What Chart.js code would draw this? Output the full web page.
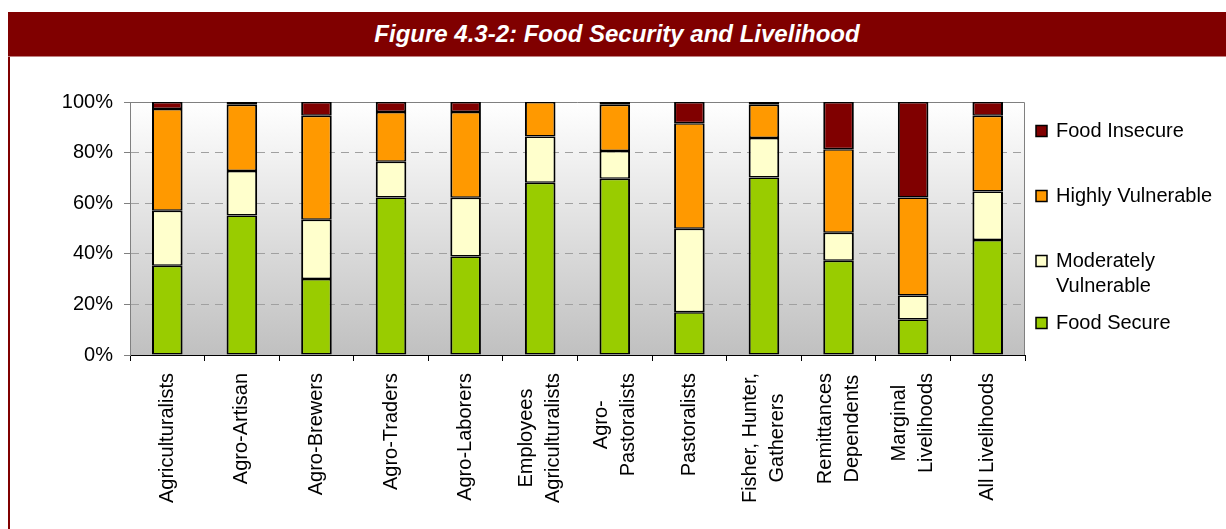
<!DOCTYPE html>
<html><head><meta charset="utf-8">
<script src="https://cdn.jsdelivr.net/npm/chart.js@4.4.0/dist/chart.umd.min.js"></script>
<style>
html,body{margin:0;padding:0;background:#fff;width:1226px;height:529px;overflow:hidden;font-family:"Liberation Sans",Arial,sans-serif;}
#band{position:absolute;left:8px;right:0;top:12px;height:44px;background:#800000;border-bottom:1px solid #c08080;color:#fff;font-weight:bold;font-style:italic;font-size:24px;line-height:44px;text-align:center;}
#lb{position:absolute;left:8px;width:2px;top:57px;bottom:0;background:#800000;}
canvas{position:absolute;left:0;top:0;}
</style></head>
<body>
<div id="band">Figure 4.3-2: Food Security and Livelihood</div>
<div id="lb"></div>
<canvas id="c" width="1226" height="529"></canvas>
<script>
const categories = [
  ["Agriculturalists"], ["Agro-Artisan"], ["Agro-Brewers"], ["Agro-Traders"],
  ["Agro-Laborers"], ["Employees", "Agriculturalists"], ["Agro-", "Pastoralists"],
  ["Pastoralists"], ["Fisher, Hunter,", "Gatherers"], ["Remittances", "Dependents"],
  ["Marginal", "Livelihoods"], ["All Livelihoods"]
];
const seriesNames = ["Food Secure", "Moderately Vulnerable", "Highly Vulnerable", "Food Insecure"];
const foodSecure        = [35.3, 55.1, 30.0, 62.3, 38.9, 68.1, 69.7, 16.9, 70.2, 37.3, 14.0, 45.5];
const moderatelyVuln    = [21.7, 17.6, 23.5, 14.1, 23.3, 18.3, 10.9, 33.0, 15.6, 11.0,  9.5, 19.1];
const highlyVuln        = [40.2, 26.2, 41.1, 19.6, 33.8, 13.6, 18.3, 41.7, 13.1, 33.0, 38.8, 30.0];
const foodInsecure      = [ 2.8,  1.1,  5.4,  4.0,  4.0,  0.0,  1.1,  8.4,  1.1, 18.7, 37.7,  5.4];
const yTicks = [0, 20, 40, 60, 80, 100];
const legendOrder = [3, 2, 1, 0];
const legendLines = [["Food Secure"], ["Moderately", "Vulnerable"], ["Highly Vulnerable"], ["Food Insecure"]];

const colors = ["#99cc00", "#ffffcc", "#ff9900", "#800000"];
const values = [foodSecure, moderatelyVuln, highlyVuln, foodInsecure];
const FONT = '"Liberation Sans", Arial, sans-serif';

const bgPlugin = {
  id: 'bg',
  beforeDraw(chart) {
    const {ctx, chartArea: a} = chart;
    const g = ctx.createLinearGradient(0, a.top, 0, a.bottom);
    g.addColorStop(0, '#ffffff');
    g.addColorStop(1, '#c0c0c0');
    ctx.save();
    ctx.fillStyle = g;
    ctx.fillRect(a.left, a.top, a.right - a.left, a.bottom - a.top);
    ctx.restore();
  },
  beforeDatasetsDraw(chart) {
    const {ctx, chartArea: a} = chart;
    ctx.save();
    ctx.strokeStyle = '#808080';
    ctx.lineWidth = 1;
    ctx.beginPath();
    ctx.moveTo(a.left, a.top + 0.5); ctx.lineTo(a.right - 0.5, a.top + 0.5);
    ctx.lineTo(a.right - 0.5, a.bottom);
    ctx.stroke();
    ctx.restore();
  },
  afterDraw(chart) {
    const ctx = chart.ctx;
    const xs = chart.scales.x;
    ctx.save();
    ctx.font = '20px ' + FONT;
    ctx.fillStyle = '#000';
    ctx.textBaseline = 'middle';
    ctx.textAlign = 'right';
    const lh = 27;
    categories.forEach((lines, i) => {
      const x = xs.getPixelForTick(i);
      const widths = lines.map(l => ctx.measureText(l).width);
      const maxW = Math.max(...widths);
      lines.forEach((l, j) => {
        ctx.save();
        ctx.translate(x + (j - (lines.length - 1) / 2) * lh, xs.top + 18 + (maxW - widths[j]) / 2);
        ctx.rotate(-Math.PI / 2);
        ctx.fillText(l, 0, 0);
        ctx.restore();
      });
    });
    // legend
    const legendY = [131, 196, 261, 323];
    ctx.textAlign = 'left';
    legendOrder.forEach((di, k) => {
      const y = legendY[k];
      ctx.fillStyle = colors[di];
      ctx.fillRect(1036, y - 5.5, 11, 11);
      ctx.strokeStyle = '#000';
      ctx.lineWidth = 1.5;
      ctx.strokeRect(1036, y - 5.5, 11, 11);
      ctx.fillStyle = '#000';
      legendLines[di].forEach((t, j) => ctx.fillText(t, 1056, y + j * 25));
    });
    ctx.restore();
  }
};

new Chart(document.getElementById('c'), {
  type: 'bar',
  data: {
    labels: categories,
    datasets: values.map((v, i) => ({
      label: seriesNames[i],
      data: v,
      backgroundColor: colors[i],
      borderColor: '#000',
      borderWidth: {left: 2, right: 2, top: 1.5, bottom: 1.5},
      borderSkipped: false,
      barPercentage: 0.41,
      categoryPercentage: 1
    }))
  },
  options: {
    responsive: false,
    animation: false,
    layout: {padding: {left: 0, right: 201, top: 102, bottom: 0}},
    plugins: {legend: {display: false}, tooltip: {enabled: false}, title: {display: false}},
    scales: {
      x: {
        stacked: true,
        grid: {display: true, drawOnChartArea: false, drawTicks: true, tickLength: 6, tickColor: '#000', tickWidth: 1, offset: true},
        border: {display: true, color: '#000', width: 1},
        ticks: {display: false},
        afterFit(s) { s.height = 174; }
      },
      y: {
        stacked: true,
        min: 0, max: 100,
        afterBuildTicks(s) { s.ticks = yTicks.map(v => ({value: v})); },
        ticks: {callback: v => v + '%', color: '#000', font: {size: 20, family: FONT}, padding: 11},
        grid: {color: c => (c.tick && (c.tick.value === 0 || c.tick.value === 100)) ? 'rgba(0,0,0,0)' : '#a0a0a0', lineWidth: 1, tickLength: 6, tickColor: '#808080', drawTicks: true},
        border: {display: true, color: '#808080', width: 1, dash: [8, 6]},
        afterFit(s) { s.width = 130; }
      }
    }
  },
  plugins: [bgPlugin]
});
</script>
</body></html>
